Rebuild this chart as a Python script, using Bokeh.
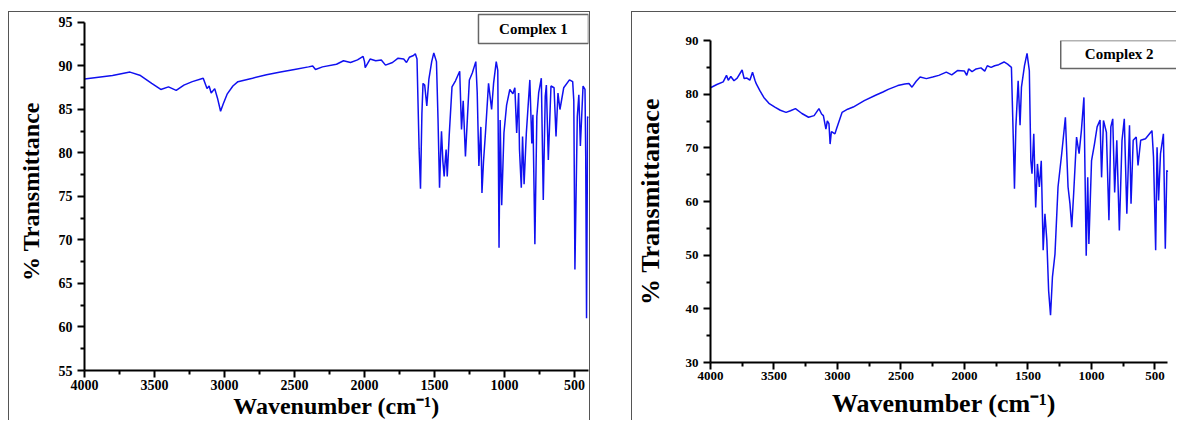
from bokeh.plotting import figure
from bokeh.models import Range1d, FixedTicker, GlobalInlineStyleSheet
from bokeh.core.properties import value
from bokeh.embed import file_html
from bokeh.resources import INLINE

# ---------------- data ----------------
wn1 = [4000, 3900, 3800, 3675, 3600, 3520, 3455, 3400, 3345, 3290, 3230, 3152, 3125, 3110,
       3095, 3070, 3050, 3028, 3010, 2980, 2940, 2904, 2800, 2700, 2600, 2500, 2400, 2370,
       2350, 2300, 2200, 2150, 2100, 2050, 2010, 2000, 1995, 1960, 1920, 1880, 1850, 1800,
       1760, 1720, 1700, 1680, 1650, 1637, 1625, 1610, 1600, 1590, 1582, 1570, 1555, 1540,
       1520, 1505, 1486, 1475, 1464, 1455, 1450, 1440, 1431, 1424, 1417, 1409, 1395, 1375,
       1350, 1320, 1307, 1295, 1279, 1265, 1251, 1230, 1205, 1195, 1183, 1169, 1161, 1150,
       1136, 1114, 1092, 1078, 1059, 1048, 1039, 1031, 1020, 1004, 985, 962, 940, 926, 913,
       899, 893, 880, 871, 860, 844, 819, 805, 797, 783, 769, 756, 737, 723, 709, 701, 687,
       668, 646, 632, 618, 604, 577, 536, 513, 505, 497, 480, 469, 458, 439, 425, 420, 414,
       406, 400]
t1 = [88.5, 88.7, 88.9, 89.3, 88.9, 88.0, 87.3, 87.6, 87.2, 87.8, 88.2, 88.6, 87.4, 87.7,
      86.9, 87.4, 86.3, 84.8, 85.6, 86.8, 87.7, 88.2, 88.6, 89.0, 89.3, 89.6, 89.9, 90.0,
      89.6, 89.9, 90.2, 90.6, 90.4, 90.7, 91.1, 90.5, 89.8, 90.8, 90.6, 90.7, 90.1, 90.4,
      90.9, 90.8, 90.4, 91.0, 91.2, 91.4, 90.8, 80.5, 75.9, 84.5, 88.0, 87.8, 85.4, 88.5,
      90.5, 91.5, 90.5, 84.0, 76.0, 80.5, 82.5, 79.0, 77.3, 79.0, 80.4, 77.3, 82.0, 87.6,
      88.3, 89.4, 82.7, 86.0, 79.6, 84.0, 88.4, 89.2, 90.5, 87.0, 78.5, 83.0, 75.4, 79.0,
      82.3, 88.0, 85.0, 88.0, 90.5, 89.5, 69.1, 83.8, 74.0, 82.3, 85.5, 87.3, 86.8, 87.5, 82.3,
      86.9, 80.4, 76.0, 81.9, 76.4, 82.3, 88.4, 81.1, 84.4, 69.5, 84.2, 86.9, 88.6, 74.6, 86.5, 87.8, 79.2,
      87.7, 87.5, 81.9, 86.9, 85.0, 87.5, 88.4, 88.2, 86.0, 66.6, 84.2, 86.7, 80.8, 87.7, 87.3, 80.0, 61.0,
      84.2, 84.0]

wn2 = [4000, 3950, 3900, 3874, 3860, 3840, 3815, 3790, 3751, 3735, 3713, 3690, 3669, 3650,
       3639, 3610, 3580, 3540, 3493, 3450, 3405, 3370, 3331, 3280, 3228, 3184, 3146, 3125,
       3111, 3091, 3080, 3067, 3058, 3048, 3038, 3020, 3008, 2964, 2920, 2876, 2789, 2700,
       2642, 2600, 2525, 2470, 2437, 2413, 2380, 2349, 2300, 2250, 2202, 2143, 2100, 2055,
       2000, 1982, 1967, 1940, 1908, 1870, 1840, 1820, 1790, 1762, 1730, 1688, 1660, 1630,
       1615, 1606, 1595, 1577, 1562, 1551, 1527, 1507, 1489, 1477, 1468, 1454, 1439, 1425,
       1410, 1395, 1380, 1366, 1351, 1337, 1322, 1307, 1287, 1263, 1234, 1205, 1184, 1169,
       1155, 1140, 1117, 1097, 1079, 1059, 1041, 1029, 1020, 999, 976, 955, 932, 920, 905,
       882, 862, 847, 832, 817, 800, 780, 759, 741, 721, 700, 688, 671, 647, 633, 612, 574,
       523, 511, 494, 483, 471, 456, 433, 418, 406, 400]
t2 = [81.2, 81.8, 82.3, 83.5, 82.6, 83.3, 82.5, 83.0, 84.5, 82.9, 83.0, 82.6, 84.1, 82.6,
      81.9, 80.6, 79.4, 78.3, 77.6, 77.0, 76.6, 76.9, 77.3, 76.4, 75.7, 76.0, 77.3, 76.3,
      76.0, 73.5, 75.0, 74.5, 70.7, 73.0, 72.9, 72.6, 73.5, 76.6, 77.2, 77.6, 78.8, 79.8,
      80.4, 80.9, 81.6, 81.9, 82.0, 81.3, 82.4, 83.2, 82.9, 83.2, 83.5, 84.1, 83.6, 84.4,
      84.3, 83.5, 84.7, 84.2, 84.7, 84.9, 84.3, 85.3, 85.0, 85.3, 85.5, 86.0, 85.6, 85.0,
      71.4, 62.4, 73.9, 82.5, 74.2, 81.3, 85.3, 87.6, 84.4, 67.6, 65.2, 72.6, 58.9, 67.0,
      62.7, 67.6, 50.9, 57.7, 52.7, 43.4, 38.8, 45.9, 50.2, 62.7, 68.9, 75.7, 62.7, 59.6,
      55.2, 61.4, 72.0, 68.9, 73.2, 79.4, 49.9, 64.5, 52.1, 67.6, 70.7, 73.9, 75.2, 64.5, 75.1,
      72.9, 56.5, 73.9, 75.4, 61.7, 71.4, 54.6, 71.4, 75.4, 57.7, 74.2, 59.6, 71.4, 72.0, 66.7, 71.4, 71.7,
      73.2, 68.3, 50.9, 70.1, 60.2, 68.9, 72.6, 51.2, 65.8, 65.5]

assert len(wn1) == len(t1) and len(wn2) == len(t2)

x_major = [4000, 3500, 3000, 2500, 2000, 1500, 1000, 500]
x_minor = [3750, 3250, 2750, 2250, 1750, 1250, 750]
y1_major = [55, 60, 65, 70, 75, 80, 85, 90, 95]
y1_minor = [57.5, 62.5, 67.5, 72.5, 77.5, 82.5, 87.5, 92.5]
y2_major = [30, 40, 50, 60, 70, 80, 90]
y2_minor = [35, 45, 55, 65, 75, 85]
names = ["Complex 1", "Complex 2"]

FONT = "Liberation Serif"
LINE = "#1010f0"
FRAME = "1px solid #555"

page_css = GlobalInlineStyleSheet(css="body{display:flex;align-items:flex-start;"
                                      "margin:8px;padding-top:3px;}")


def make(width, height, xr, yr, xb, yb, ymaj, ymin, ylabel, borders, tick_fs, lab_fs,
         standoffs, frame_styles):
    bl, br, bt, bb = borders
    p = figure(width=width, height=height, output_backend="svg", toolbar_location=None,
               x_range=Range1d(*xr), y_range=Range1d(*yr), title_location=None,
               min_border_left=bl, min_border_right=br, min_border_top=bt, min_border_bottom=bb,
               styles=frame_styles)
    p.outline_line_color = None
    p.grid.visible = False
    p.xaxis.ticker = FixedTicker(ticks=x_major, minor_ticks=x_minor)
    p.yaxis.ticker = FixedTicker(ticks=ymaj, minor_ticks=ymin)
    p.xaxis.bounds = xb
    p.yaxis.bounds = yb
    for ax in (p.xaxis, p.yaxis):
        ax.axis_line_width = 2
        ax.axis_line_color = "black"
        ax.major_tick_line_width = 2
        ax.minor_tick_line_width = 2
        ax.major_tick_out = 7
        ax.major_tick_in = 0
        ax.minor_tick_out = 4
        ax.minor_tick_in = 0
        ax.major_label_text_font = FONT
        ax.major_label_text_font_style = "bold"
        ax.major_label_text_font_size = tick_fs
        ax.major_label_text_color = "black"
        ax.axis_label_text_font = FONT
        ax.axis_label_text_font_style = "bold"
        ax.axis_label_text_font_size = lab_fs
        ax.axis_label_text_color = "black"
    p.xaxis.major_label_standoff = 2
    p.yaxis.major_label_standoff = 5
    p.xaxis.axis_label = "Wavenumber (cm\u207b\u00b9)"
    p.yaxis.axis_label = ylabel
    p.xaxis.axis_label_standoff = standoffs[0]
    p.yaxis.axis_label_standoff = standoffs[1]
    return p


def add_box(p, x, y, w, h, name):
    p.rect(x=[x], y=[y], width=w, height=h, width_units="screen", height_units="screen",
           fill_color="white", line_color="#666", line_width=1.5)
    p.text(x=[x], y=[y], text=[name], text_align="center", text_baseline="middle",
           text_font=value(FONT), text_font_style="bold", text_font_size="15px",
           text_color="black")


# left panel: frame top extended 10px above 95, frame right at 400
p1 = make(582, 409, (4000, 400), (55, 96.149), (400, 4000), (55, 95),
          y1_major, y1_minor, "% Transmittance", (75, 3, 0, 51), "14px", "24px", (0, 12),
          {"border-left": FRAME, "border-top": FRAME, "border-right": FRAME})
p1.line(wn1, t1, line_color=LINE, line_width=1.5)
add_box(p1, 793, 94.25, 110, 29, names[0])
p1.stylesheets = [page_css]

# right panel: frame right extended to the page edge beyond 400
p2 = make(545, 409, (4000, 322), (30, 90), (400, 4000), (30, 90),
          y2_major, y2_minor, "% Transmittanace", (73, 0, 28, 59), "13px", "26px", (6, 18),
          {"border-left": FRAME, "border-top": FRAME})
p2.margin = (0, 0, 0, 41)
p2.line(wn2, t2, line_color=LINE, line_width=1.5)
add_box(p2, 781, 87.4, 117, 28, names[1])

open("out.html", "w").write(file_html([p1, p2], INLINE))
